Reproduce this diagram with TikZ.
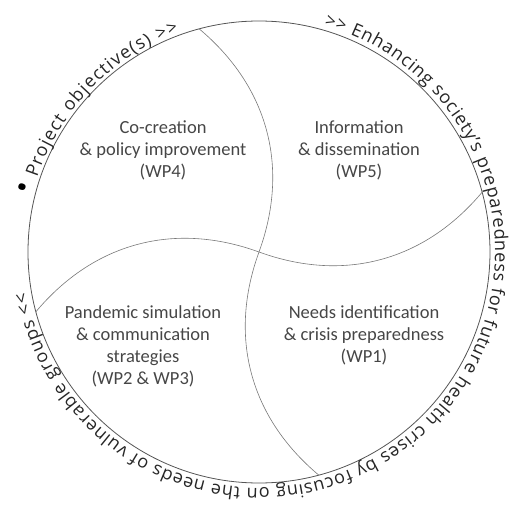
\documentclass[tikz,border=0pt]{standalone}
\usepackage{fontspec}
\setmainfont{Carlito}
\newfontfamily\ringfamily{Open Sans}
\usetikzlibrary{decorations.text}
\definecolor{ringgray}{RGB}{85,85,85}
\definecolor{linegray}{RGB}{120,120,120}
\definecolor{textgray}{RGB}{70,70,70}
\newcommand{\ringfont}{\ringfamily\fontsize{18}{20}\selectfont\color{black!85}}
\newcommand{\dotfont}{\ringfamily\fontsize{30}{30}\selectfont\color{black}}
\tikzset{
	ring/.style={draw=ringgray, line width=0.8pt},
	divider/.style={draw=linegray, line width=0.6pt},
	wp/.style={align=center, text=textgray, font=\fontsize{18.5}{22}\selectfont}
}
\begin{document}
\begin{tikzpicture}[x=1pt,y=1pt]
	\useasboundingbox (-259,-254) rectangle (255,252);
	% outer ring
	\draw[ring] (0,0) circle (231);
	% pinwheel
	\coordinate (hub) at (0,0);
	\coordinate (endN) at (105:231);
	\coordinate (endE) at (15:231);
	\coordinate (endS) at (-75:231);
	\coordinate (endW) at (195:231);
	\draw[divider] (hub) to[bend right=35] (endN);
	\draw[divider] (hub) to[bend right=35] (endE);
	\draw[divider] (hub) to[bend right=35] (endS);
	\draw[divider] (hub) to[bend right=35] (endW);
	% work packages
	\node[wp] (wp4) at (-96,102) {Co-creation\\\& policy improvement\\(WP4)};
	\node[wp] (wp5) at (100,102) {Information\\\& dissemination\\(WP5)};
	\node[wp] (wp23) at (-116,-94) {Pandemic simulation\\\& communication\\strategies\\(WP2 \& WP3)};
	\node[wp] (wp1) at (105,-83) {Needs identification\\\& crisis preparedness\\(WP1)};
	% text round the ring
	\path[decorate, decoration={text along path, text align=fit to path,
		text={|\dotfont|•|\ringfont| Project objective(s) >>}}]
		(166:234) arc[start angle=166, end angle=110, radius=234];
	\path[decorate, decoration={text along path, text align=fit to path,
		text={|\ringfont|>> Enhancing society’s preparedness for future health crises by focusing on the needs of vulnerable groups <<}}]
		(74:236) arc[start angle=74, end angle=-170, radius=236];
\end{tikzpicture}
\end{document}
